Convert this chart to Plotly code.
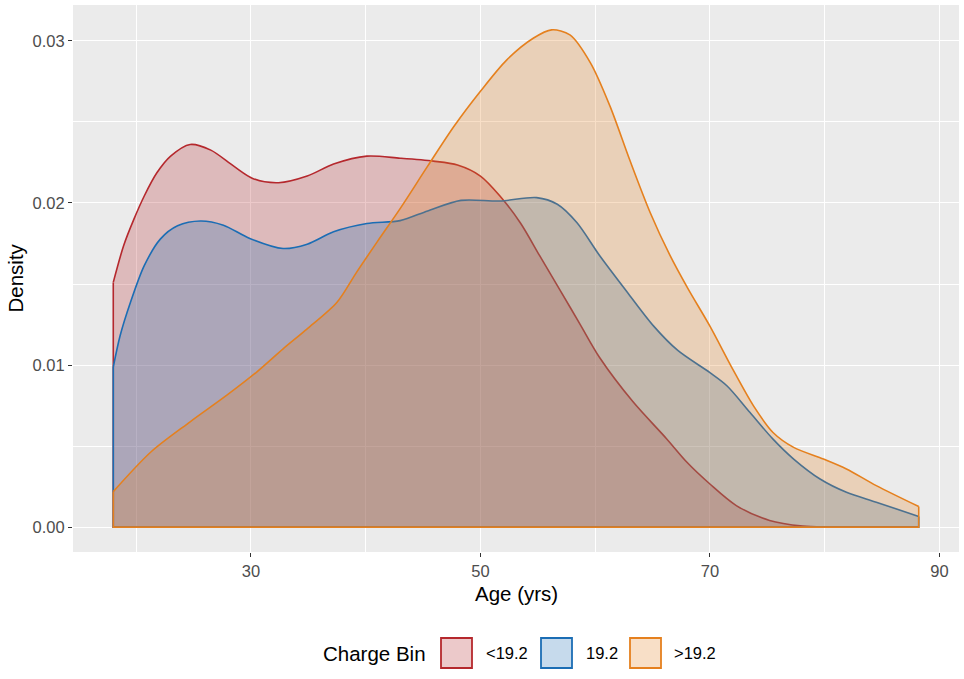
import plotly.graph_objects as go

# ---------------- data ----------------
series_names = ["<19.2", "19.2", ">19.2"]
line_colors = ["#B5282D", "#1B6DB4", "#E5801E"]
fill_colors = ["rgba(181,40,45,0.25)", "rgba(27,109,180,0.25)", "rgba(229,128,30,0.25)"]

age_low = [18.0, 18.9, 19.8, 20.7, 21.8, 23.0, 24.7, 26.5, 28.5, 30.2, 32.4, 34.9, 37.2,
           40.1, 43.0, 45.9, 48.0, 50.0, 51.7, 53.5, 55.2, 57.0, 58.7, 60.4, 63.3, 66.2,
           68.0, 70.0, 72.3, 75.2, 78.1, 80.1, 84.0, 88.2]
dens_low = [0.01510, 0.01736, 0.01900, 0.02043, 0.02186, 0.02289, 0.02361, 0.02326,
            0.02227, 0.02150, 0.02125, 0.02166, 0.02240, 0.02289, 0.02276, 0.02258,
            0.02234, 0.02166, 0.02043, 0.01875, 0.01670, 0.01455, 0.01250, 0.01045,
            0.00773, 0.00547, 0.00400, 0.00266, 0.00133, 0.00041, 0.00006, 0.0, 0.0, 0.0]

age_mid = [18.0, 18.6, 19.5, 20.7, 22.1, 23.6, 25.6, 27.6, 29.9, 32.8, 34.9, 37.2, 40.1,
           43.0, 45.4, 48.3, 51.7, 54.9, 56.7, 58.4, 60.4, 62.8, 65.1, 67.2, 70.0, 71.5,
           73.5, 75.5, 77.3, 79.6, 81.9, 84.5, 88.2]
dens_mid = [0.00988, 0.01182, 0.01387, 0.01613, 0.01777, 0.01859, 0.01889, 0.01863,
            0.01781, 0.01719, 0.01746, 0.01822, 0.01873, 0.01891, 0.01951, 0.02016,
            0.02012, 0.02033, 0.01992, 0.01879, 0.01674, 0.01449, 0.01240, 0.01090,
            0.00953, 0.00871, 0.00707, 0.00543, 0.00420, 0.00297, 0.00215, 0.00154,
            0.00066]

age_high = [18.0, 21.3, 24.7, 27.9, 30.5, 32.8, 34.9, 37.5, 39.2, 41.0, 43.0, 45.4, 47.7,
            50.0, 52.3, 54.6, 56.2, 57.8, 59.6, 61.3, 63.0, 64.8, 66.5, 68.1, 70.0, 72.0,
            73.8, 75.5, 77.3, 79.9, 81.9, 84.5, 88.2]
dens_high = [0.00219, 0.00465, 0.00650, 0.00814, 0.00957, 0.01100, 0.01223, 0.01387,
             0.01572, 0.01760, 0.01965, 0.02227, 0.02473, 0.02689, 0.02883, 0.03016,
             0.03068, 0.03037, 0.02863, 0.02596, 0.02268, 0.01940, 0.01680, 0.01470,
             0.01240, 0.00973, 0.00748, 0.00584, 0.00492, 0.00420, 0.00359, 0.00256,
             0.00127]

x_ticks = [30, 50, 70, 90]
x_minor = [20, 40, 60, 80]
y_ticks = [0.00, 0.01, 0.02, 0.03]
y_minor = [0.005, 0.015, 0.025]

ages = [age_low, age_mid, age_high]
dens = [dens_low, dens_mid, dens_high]

FONT = "Liberation Sans, Arial, sans-serif"

fig = go.Figure()
for name, xs, ys, lc, fc in zip(series_names, ages, dens, line_colors, fill_colors):
    fig.add_trace(go.Scatter(
        x=xs, y=ys, mode="lines", name=name,
        line=dict(color=lc, width=1.6, shape="spline", smoothing=0.85),
        fill="tozeroy", fillcolor=fc, showlegend=False, hoverinfo="skip"))
    # vertical ends and baseline of the density polygon
    fig.add_trace(go.Scatter(
        x=[xs[0], xs[0], xs[-1], xs[-1]], y=[ys[0], 0, 0, ys[-1]],
        mode="lines", line=dict(color=lc, width=1.6), showlegend=False,
        hoverinfo="skip"))

# ---------------- layout ----------------
L, R, T, B = 73, 5, 5, 127
W, H = 964, 679
pw = W - L - R
ph = H - T - B


def px2paper_x(px):
    return (px - L) / pw


def px2paper_y(py):
    return (H - B - py) / ph


all_x_min = min(min(a) for a in ages)
all_x_max = max(max(a) for a in ages)
ymax = max(max(d) for d in dens)
xr = all_x_max - all_x_min

fig.update_layout(
    width=W, height=H,
    margin=dict(l=L, r=R, t=T, b=B, autoexpand=False),
    paper_bgcolor="white", plot_bgcolor="#EBEBEB",
    font=dict(family=FONT, color="#4D4D4D"),
    showlegend=False,
)
fig.update_xaxes(
    automargin=False,
    range=[all_x_min - 0.05 * xr, all_x_max + 0.05 * xr],
    tickmode="array", tickvals=x_ticks, ticktext=[str(v) for v in x_ticks],
    ticks="outside", ticklen=4, tickwidth=1.1, tickcolor="#333333",
    tickfont=dict(size=16.5, color="#4D4D4D", family=FONT),
    showgrid=True, gridcolor="white", gridwidth=1.3,
    minor=dict(tickvals=x_minor, showgrid=True, gridcolor="white", gridwidth=0.6, ticks=""),
    zeroline=False, showline=False,
)
fig.update_yaxes(
    automargin=False,
    range=[-0.05 * ymax, 1.05 * ymax],
    tickmode="array", tickvals=y_ticks, ticktext=[f"{v:.2f}" for v in y_ticks],
    ticks="outside", ticklen=4, tickwidth=1.1, tickcolor="#333333",
    tickfont=dict(size=16.5, color="#4D4D4D", family=FONT),
    showgrid=True, gridcolor="white", gridwidth=1.3,
    minor=dict(tickvals=y_minor, showgrid=True, gridcolor="white", gridwidth=0.6, ticks=""),
    zeroline=False, showline=False,
)

annotations = [
    dict(text="Age (yrs)", xref="paper", yref="paper", x=0.5, y=px2paper_y(593),
         xanchor="center", yanchor="middle", showarrow=False,
         font=dict(size=20.5, color="black", family=FONT)),
    dict(text="Density", xref="paper", yref="paper", x=px2paper_x(15), y=0.5,
         xanchor="center", yanchor="middle", textangle=-90, showarrow=False,
         font=dict(size=20.5, color="black", family=FONT)),
    dict(text="Charge Bin", xref="paper", yref="paper", x=px2paper_x(321), y=px2paper_y(653),
         xanchor="left", yanchor="middle", showarrow=False,
         font=dict(size=20.5, color="black", family=FONT)),
]

# manual legend keys (ggplot-style squares)
key_left = [440, 540, 629]
label_left = [484, 584, 672]
shapes = []
for name, kl, ll, lc, fc in zip(series_names, key_left, label_left, line_colors, fill_colors):
    shapes.append(dict(type="rect", xref="paper", yref="paper",
                       x0=px2paper_x(kl + 1), x1=px2paper_x(kl + 32),
                       y0=px2paper_y(668), y1=px2paper_y(638),
                       fillcolor=fc, line=dict(color=lc, width=1.8)))
    annotations.append(dict(text=name, xref="paper", yref="paper", x=px2paper_x(ll),
                            y=px2paper_y(653), xanchor="left", yanchor="middle",
                            showarrow=False,
                            font=dict(size=16.5, color="black", family=FONT)))

fig.update_layout(annotations=annotations, shapes=shapes)

fig.write_html("out.html", config={"displayModeBar": False},
               post_script="document.body.style.margin='0';document.body.style.overflow='hidden';")
